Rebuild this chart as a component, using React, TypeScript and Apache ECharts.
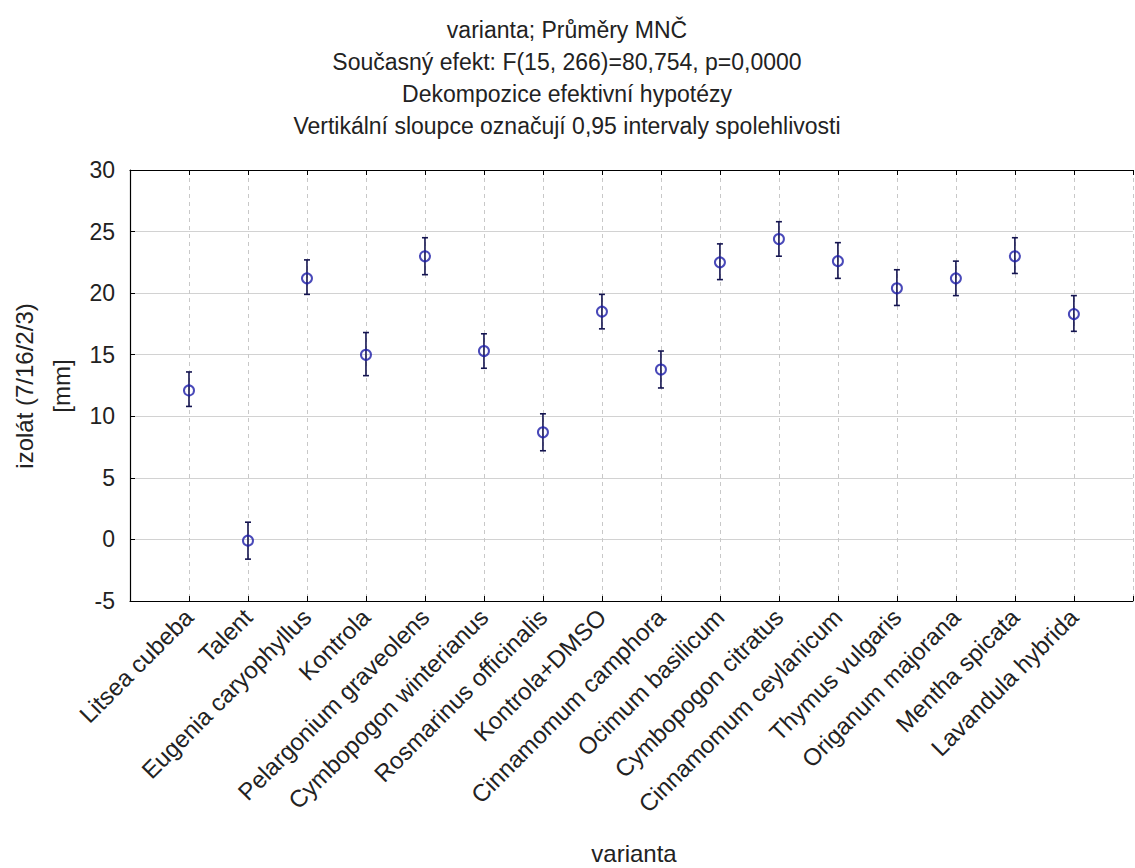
import React, { useEffect, useRef } from "react";
import * as echarts from "echarts";

const categories = [
  "Litsea cubeba",
  "Talent",
  "Eugenia caryophyllus",
  "Kontrola",
  "Pelargonium graveolens",
  "Cymbopogon winterianus",
  "Rosmarinus officinalis",
  "Kontrola+DMSO",
  "Cinnamomum camphora",
  "Ocimum basilicum",
  "Cymbopogon citratus",
  "Cinnamomum ceylanicum",
  "Thymus vulgaris",
  "Origanum majorana",
  "Mentha spicata",
  "Lavandula hybrida",
];
const means = [12.1, -0.1, 21.2, 15.0, 23.0, 15.3, 8.7, 18.5, 13.8, 22.5, 24.4, 22.6, 20.4, 21.2, 23.0, 18.3];
const lower = [10.8, -1.6, 19.9, 13.3, 21.5, 13.9, 7.2, 17.1, 12.3, 21.1, 23.0, 21.2, 19.0, 19.8, 21.6, 16.9];
const upper = [13.6, 1.4, 22.7, 16.8, 24.5, 16.7, 10.2, 19.9, 15.3, 24.0, 25.8, 24.1, 21.9, 22.6, 24.5, 19.8];
const yTicks = { min: -5, max: 30, interval: 5 };
const titleLines = [
  "varianta; Průměry MNČ",
  "Současný efekt: F(15, 266)=80,754, p=0,0000",
  "Dekompozice efektivní hypotézy",
  "Vertikální sloupce označují 0,95 intervaly spolehlivosti",
];
const xName = "varianta";
const yNameLines = ["izolát (7/16/2/3)", "[mm]"];

const FONT = "'Liberation Sans', Arial, sans-serif";

export default function App() {
  const ref = useRef<HTMLDivElement>(null);
  useEffect(() => {
    if (!ref.current) return;
    const chart = echarts.init(ref.current, null, { renderer: "svg" });
    const pts = means.map((m, i) => [i + 1, m]);
    const bars = means.map((_, i) => [i + 1, lower[i], upper[i]]);
    const xAxisBase = {
      type: "value",
      min: 0,
      max: categories.length + 1,
      interval: 1,
      axisLine: { show: true, onZero: false, lineStyle: { color: "#000", width: 1.2 } },
      axisTick: { show: true, inside: true, length: 5, lineStyle: { color: "#000" } },
    };
    chart.setOption({
      animation: false,
      backgroundColor: "#fff",
      textStyle: { fontFamily: FONT },
      grid: { left: 130, top: 170, width: 1014, height: 431, containLabel: false },
      graphic: [
        {
          type: "text",
          x: 567,
          y: 14,
          style: {
            text: titleLines.join("\n"),
            font: `23px ${FONT}`,
            lineHeight: 32,
            fill: "#222",
            align: "center",
            verticalAlign: "top",
          },
        },
        {
          type: "text",
          x: 634,
          y: 853,
          style: {
            text: xName,
            font: `24px ${FONT}`,
            fill: "#222",
            align: "center",
            verticalAlign: "middle",
          },
        },
        {
          type: "text",
          x: 43,
          y: 386,
          rotation: Math.PI / 2,
          style: {
            text: yNameLines.join("\n"),
            font: `24px ${FONT}`,
            lineHeight: 37,
            fill: "#222",
            align: "center",
            verticalAlign: "middle",
          },
        },
      ],
      xAxis: [
        {
          ...xAxisBase,
          position: "bottom",
          splitLine: { show: true, lineStyle: { color: "#c8c8c8", type: [4, 4], width: 1 } },
          axisLabel: {
            rotate: 45,
            fontSize: 24,
            color: "#222",
            margin: 12,
            fontFamily: FONT,
            formatter: (v: number) => categories[v - 1] ?? "",
          },
        },
        {
          ...xAxisBase,
          position: "top",
          splitLine: { show: false },
          axisLabel: { show: false },
        },
      ],
      yAxis: {
        type: "value",
        min: yTicks.min,
        max: yTicks.max,
        interval: yTicks.interval,
        axisLine: { show: true, lineStyle: { color: "#000", width: 1.2 } },
        axisTick: { show: true, inside: true, length: 5, lineStyle: { color: "#000" } },
        splitLine: { show: true, lineStyle: { color: "#d2d2d2", type: "solid", width: 1 } },
        axisLabel: { fontSize: 23, color: "#222", margin: 15, fontFamily: FONT },
      },
      series: [
        {
          type: "custom",
          xAxisIndex: 0,
          z: 2,
          data: bars,
          renderItem: (params: any, api: any) => {
            const x = api.value(0);
            const lo = api.coord([x, api.value(1)]);
            const hi = api.coord([x, api.value(2)]);
            const style = { stroke: "#141450", lineWidth: 1.6 };
            const cap = 3;
            return {
              type: "group",
              children: [
                { type: "line", shape: { x1: lo[0], y1: lo[1], x2: hi[0], y2: hi[1] }, style },
                { type: "line", shape: { x1: hi[0] - cap, y1: hi[1], x2: hi[0] + cap, y2: hi[1] }, style },
                { type: "line", shape: { x1: lo[0] - cap, y1: lo[1], x2: lo[0] + cap, y2: lo[1] }, style },
              ],
            };
          },
        },
        {
          type: "scatter",
          xAxisIndex: 0,
          z: 3,
          data: pts,
          symbol: "circle",
          symbolSize: 10,
          itemStyle: { color: "rgba(0,0,0,0)", borderColor: "#1c1ca8", borderWidth: 2 },
        },
      ],
    });
    return () => chart.dispose();
  }, []);
  return (
    <div
      ref={ref}
      style={{ position: "absolute", left: 0, top: 0, width: 1135, height: 868 }}
    />
  );
}
